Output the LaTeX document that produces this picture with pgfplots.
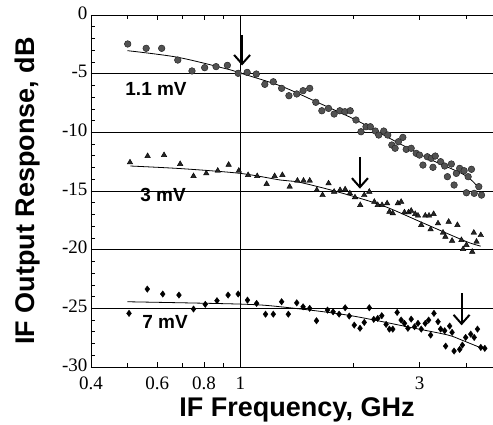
\documentclass[border=0pt]{standalone}
\usepackage{pgfplots}
\pgfplotsset{compat=1.18}
\usetikzlibrary{arrows.meta}
\usepackage{fontspec}
\setmainfont{Liberation Serif}
\setsansfont{Liberation Sans}

% measured points, mixer IF response at three LO levels
\pgfplotstableread{
x y
0.501 -2.47
0.561 -2.84
0.617 -2.84
0.681 -3.84
0.743 -4.77
0.803 -4.49
0.861 -4.40
0.923 -4.29
0.986 -4.97
1.042 -4.89
1.102 -5.03
1.161 -5.91
1.223 -5.69
1.287 -6.25
1.346 -6.88
1.412 -6.73
1.468 -6.45
1.529 -6.25
1.587 -7.44
1.647 -8.16
1.716 -7.96
1.776 -8.44
1.839 -8.16
1.897 -8.24
1.960 -8.16
2.030 -8.95
2.094 -9.95
2.159 -9.52
2.217 -9.52
2.286 -9.89
2.334 -10.23
2.407 -9.89
2.467 -10.23
2.529 -11.08
2.581 -11.36
2.634 -10.80
2.706 -10.43
2.762 -11.45
2.848 -11.36
2.937 -11.79
2.997 -11.94
3.061 -12.79
3.144 -12.08
3.221 -12.22
3.301 -12.02
3.255 -12.98
3.411 -12.50
3.497 -12.87
3.556 -13.78
3.644 -12.70
3.705 -14.49
3.757 -13.50
3.834 -13.07
3.940 -13.27
4.038 -13.78
4.121 -13.15
3.996 -15.15
4.191 -15.20
4.311 -14.63
4.383 -15.35
}\lowa

\pgfplotstableread{
x y
0.508 -12.56
0.566 -12.02
0.626 -11.94
0.691 -12.70
0.750 -13.73
0.811 -13.50
0.870 -13.27
0.930 -12.76
0.990 -13.27
1.048 -13.64
1.108 -13.73
1.174 -14.40
1.233 -13.73
1.293 -13.64
1.352 -14.63
1.418 -14.12
1.472 -14.12
1.529 -14.12
1.597 -14.92
1.654 -15.35
1.716 -14.35
1.776 -15.06
1.842 -14.92
1.900 -14.86
1.956 -15.20
2.018 -15.54
2.084 -16.20
2.136 -15.35
2.203 -15.06
2.272 -15.92
2.320 -16.20
2.382 -16.20
2.457 -16.05
2.492 -16.77
2.544 -16.90
2.624 -16.05
2.678 -15.92
2.733 -16.82
2.802 -16.82
2.848 -16.68
2.919 -16.96
2.969 -17.10
3.029 -17.90
3.105 -17.10
3.177 -17.10
3.268 -16.96
3.208 -18.27
3.357 -17.76
3.462 -18.55
3.512 -18.90
3.584 -17.62
3.660 -19.24
3.781 -17.90
3.876 -19.18
3.916 -19.95
3.996 -19.60
4.140 -20.18
4.181 -18.55
4.251 -19.32
4.364 -18.76
}\mida

\pgfplotstableread{
x y
0.505 -25.43
0.565 -23.36
0.621 -23.78
0.686 -23.87
0.750 -25.06
0.806 -24.66
0.866 -24.35
0.927 -23.87
0.986 -23.78
1.044 -24.30
1.104 -24.58
1.166 -25.50
1.223 -25.50
1.287 -24.44
1.341 -25.50
1.412 -24.53
1.468 -24.87
1.529 -25.00
1.594 -26.06
1.705 -25.15
1.765 -25.30
1.831 -25.50
1.900 -24.95
1.948 -25.66
2.009 -26.43
2.081 -26.70
2.136 -26.20
2.203 -24.95
2.264 -25.94
2.320 -25.86
2.378 -25.63
2.442 -26.37
2.492 -26.77
2.544 -26.77
2.613 -25.35
2.678 -26.00
2.733 -26.28
2.791 -26.70
2.848 -25.92
2.907 -26.57
2.969 -26.28
3.029 -26.77
3.105 -26.28
3.169 -26.00
3.208 -27.28
3.275 -25.43
3.357 -26.14
3.411 -26.77
3.497 -26.91
3.518 -28.22
3.606 -26.51
3.660 -27.05
3.705 -28.64
3.834 -28.50
3.898 -28.13
3.978 -27.48
4.103 -27.20
4.191 -27.48
4.276 -26.77
4.364 -28.33
4.472 -28.41
}\higha

\begin{document}
\begin{tikzpicture}
\begin{axis}[
  scale only axis, width=412pt, height=352pt,
  xmode=log, xmin=0.4, xmax=5, ymin=-30, ymax=0,
  xtick={0.4,0.6,0.8,3}, xticklabels={0.4,0.6,0.8,3},
  minor xtick={0.5,0.7,0.9,2,4},
  extra x ticks={1}, extra x tick labels={1},
  extra x tick style={grid=major},
  ytick={-30,-25,-20,-15,-10,-5,0},
  yticklabels={-30,-25,-20,-15,-10,-5,0},
  minor y tick num=4,
  ymajorgrids,
  major grid style={black, line width=0.7pt},
  tick align=inside,
  major tick length=5pt, minor tick length=4pt,
  tick style={black, line width=0.6pt},
  axis line style={line width=0.8pt},
  ticklabel style={font=\fontsize{19}{20}\selectfont},
  xticklabel style={yshift=-6pt},
  yticklabel style={yshift=2pt},
  xlabel={IF Frequency, GHz},
  ylabel={IF Output Response, dB},
  label style={font=\sffamily\bfseries\fontsize{27}{30}\selectfont},
  xlabel style={at={(rel axis cs:0.5,0)}, anchor=base, yshift=-50pt},
  ylabel style={at={(rel axis cs:-0.136,0.5)}, anchor=base, rotate=0},
]
\coordinate (bl) at (rel axis cs:0,0);

\addplot[only marks, mark=*, mark size=3.3pt,
  mark options={fill=black!68, draw=black!85, line width=0.5pt}] table {\lowa};
\addplot[only marks, mark=triangle*, mark size=3.2pt,
  mark options={fill=black!85, draw=black}] table {\mida};
\addplot[only marks, mark=diamond*, mark size=3.2pt,
  mark options={fill=black, draw=black}] table {\higha};

% fitted curves
\addplot[black, line width=0.8pt, smooth, tension=0.5] coordinates {
  (0.5,-3.04) (0.68,-3.6) (0.92,-4.6) (1.0,-4.95) (1.28,-6.05) (1.59,-7.39)
  (2.03,-8.95) (2.47,-10.43) (3.15,-12.2) (3.88,-13.5) (4.16,-14.2) (4.31,-14.8)};
\addplot[black, line width=0.8pt, smooth, tension=0.5] coordinates {
  (0.509,-12.87) (0.7,-13.1) (1.0,-13.5) (1.28,-14.07) (1.41,-14.2) (1.78,-15.0)
  (2.37,-16.2) (3.0,-17.6) (3.6,-18.7) (4.06,-19.4) (4.36,-19.7)};
\addplot[black, line width=0.8pt, smooth, tension=0.5] coordinates {
  (0.5,-24.44) (1.0,-24.64) (1.28,-24.87) (1.93,-25.58) (2.91,-26.7)
  (3.57,-27.28) (3.88,-27.7) (4.47,-28.5)};

% markers of the roll-off frequency
\draw[line width=2pt, -{Straight Barb[length=9pt,width=16pt,line width=2pt]}]
  (axis cs:1.01,-1.7) -- (axis cs:1.01,-4.3);
\draw[line width=2pt, -{Straight Barb[length=9pt,width=16pt,line width=2pt]}]
  (axis cs:2.08,-12.1) -- (axis cs:2.08,-14.8);
\draw[line width=2pt, -{Straight Barb[length=9pt,width=16pt,line width=2pt]}]
  (axis cs:3.88,-23.7) -- (axis cs:3.88,-26.45);

\node[font=\sffamily\bfseries\fontsize{19}{20}\selectfont] at (axis cs:0.596,-6.27) {1.1 mV};
\node[font=\sffamily\bfseries\fontsize{19}{20}\selectfont] at (axis cs:0.622,-15.3) {3 mV};
\node[font=\sffamily\bfseries\fontsize{19}{20}\selectfont] at (axis cs:0.630,-26.2) {7 mV};
\end{axis}
\pgfresetboundingbox
\path[use as bounding box] ([shift={(-91pt,-58pt)}]bl) rectangle ([shift={(402pt,367pt)}]bl);
\end{tikzpicture}
\end{document}
